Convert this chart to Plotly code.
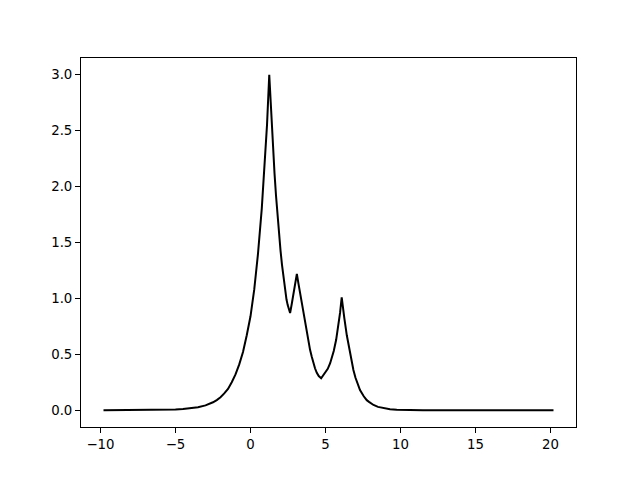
import plotly.graph_objects as go

# curve, x ascending
x_vals = [
    -9.8, -8.0, -7.0, -6.0, -5.0, -4.5, -4.0, -3.5, -3.0, -2.75,
    -2.5, -2.25, -2.0, -1.75, -1.5, -1.25, -1.0, -0.75, -0.5, -0.25,
    0.0, 0.25, 0.5, 0.75, 1.0, 1.1, 1.25, 1.42, 1.6, 1.7,
    1.8, 1.9, 2.0, 2.1, 2.2, 2.3, 2.4, 2.48, 2.55, 2.64,
    2.75, 2.86, 2.97, 3.09, 3.2, 3.31, 3.42, 3.53, 3.64, 3.75,
    3.86, 3.97, 4.08, 4.19, 4.3, 4.42, 4.55, 4.71, 4.85, 4.97,
    5.15, 5.31, 5.45, 5.55, 5.71, 5.86, 5.97, 6.08, 6.17, 6.26,
    6.42, 6.64, 6.75, 6.86, 7.0, 7.15, 7.3, 7.55, 7.65, 7.75,
    7.9, 8.0, 8.2, 8.5, 8.85, 9.3, 9.75, 10.5, 11.5, 13.0,
    20.2,
]
y_vals = [
    0.0, 0.0005, 0.001, 0.003, 0.007, 0.011, 0.017, 0.026, 0.043, 0.056,
    0.071, 0.091, 0.116, 0.15, 0.19, 0.25, 0.32, 0.41, 0.52, 0.67,
    0.84, 1.08, 1.40, 1.80, 2.30, 2.55, 3.0, 2.53, 2.12, 1.92,
    1.74, 1.58, 1.43, 1.30, 1.18, 1.08, 0.99, 0.94, 0.90, 0.87,
    0.95, 1.04, 1.12, 1.22, 1.13, 1.045, 0.95, 0.866, 0.78, 0.69,
    0.615, 0.54, 0.48, 0.42, 0.375, 0.335, 0.305, 0.286, 0.31, 0.33,
    0.37, 0.42, 0.48, 0.53, 0.63, 0.75, 0.87, 1.01, 0.90, 0.82,
    0.67, 0.50, 0.43, 0.36, 0.29, 0.23, 0.18, 0.125, 0.105, 0.09,
    0.075, 0.065, 0.047, 0.03, 0.018, 0.009, 0.004, 0.0015, 0.0005, 0.0001,
    0.0,
]

x_ticks = [-10, -5, 0, 5, 10, 15, 20]
x_tick_text = ["\u221210", "\u22125", "0", "5", "10", "15", "20"]
y_ticks = [0.0, 0.5, 1.0, 1.5, 2.0, 2.5, 3.0]
y_tick_text = ["0.0", "0.5", "1.0", "1.5", "2.0", "2.5", "3.0"]

fig = go.Figure()
fig.add_trace(go.Scatter(
    x=x_vals, y=y_vals, mode="lines",
    line=dict(color="black", width=2),
    hoverinfo="skip", showlegend=False,
))

axis_style = dict(
    showgrid=False, zeroline=False,
    showline=True, linecolor="black", linewidth=1, mirror=True,
    ticks="outside", ticklen=5, tickwidth=1, tickcolor="black",
    tickfont=dict(family="DejaVu Sans", size=13.3, color="black"),
)
fig.update_xaxes(range=[-11.3, 21.7], tickvals=x_ticks, ticktext=x_tick_text, **axis_style)
fig.update_yaxes(range=[-0.15, 3.15], tickvals=y_ticks, ticktext=y_tick_text, **axis_style)

# page body adds an 8px margin, so the figure is 8px smaller each way
fig.update_layout(
    width=632, height=472, autosize=False,
    margin=dict(l=73, r=64, t=50, b=53),
    plot_bgcolor="white", paper_bgcolor="white",
    font=dict(family="DejaVu Sans", size=13.3, color="black"),
)

fig.write_html("out.html", config={"displayModeBar": False})
